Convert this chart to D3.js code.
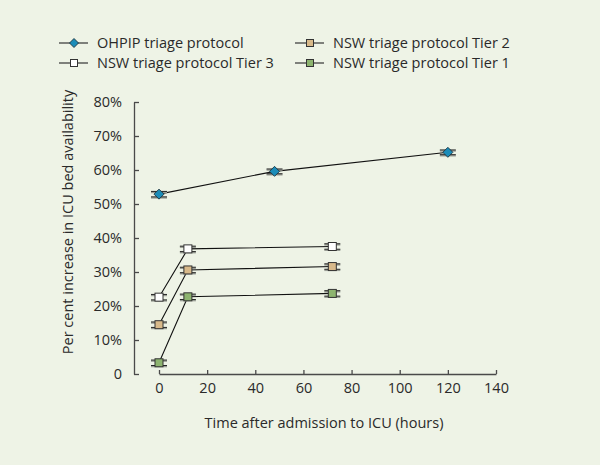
<!DOCTYPE html>
<html>
<head>
<meta charset="utf-8">
<script src="https://cdn.jsdelivr.net/npm/d3@7"></script>
<style>
  html, body { margin: 0; padding: 0; background: #eef3e6; }
  svg { display: block; font-family: "Open Sans", "DejaVu Sans", sans-serif; }
  .axis { font-family: "Open Sans", "DejaVu Sans", sans-serif; }
  .axis path, .axis line { stroke: #4a4a4a; stroke-width: 1.3; }
  .axis text { font-size: 14.5px; fill: #2a2a2a; }
</style>
</head>
<body>
<div id="chart"></div>
<script>
// values
const seriesNames = ['OHPIP triage protocol', 'NSW triage protocol Tier 3', 'NSW triage protocol Tier 2', 'NSW triage protocol Tier 1'];
const ohpipHours = [0, 48, 120];
const ohpipValues = [0.529, 0.596, 0.652];
const ohpipErr = [0.008, 0.007, 0.007];
const nswHours = [0, 12, 72];
const tier3Values = [0.226, 0.368, 0.375];
const tier2Values = [0.145, 0.306, 0.316];
const tier1Values = [0.033, 0.227, 0.237];
const nswErr = [0.008, 0.008, 0.008];
const xTicks = [0, 20, 40, 60, 80, 100, 120, 140];
const yTicks = [0, 0.1, 0.2, 0.3, 0.4, 0.5, 0.6, 0.7, 0.8];

const COLORS = {
    'OHPIP triage protocol': '#1b8cb8',
    'NSW triage protocol Tier 3': '#ffffff',
    'NSW triage protocol Tier 2': '#d8b98a',
    'NSW triage protocol Tier 1': '#8db46f'
};

const series = [
    { name: seriesNames[0], shape: 'diamond', pts: ohpipHours.map((h, i) => ({ x: h, y: ohpipValues[i], e: ohpipErr[i] })) },
    { name: seriesNames[1], shape: 'square', pts: nswHours.map((h, i) => ({ x: h, y: tier3Values[i], e: nswErr[i] })) },
    { name: seriesNames[2], shape: 'square', pts: nswHours.map((h, i) => ({ x: h, y: tier2Values[i], e: nswErr[i] })) },
    { name: seriesNames[3], shape: 'square', pts: nswHours.map((h, i) => ({ x: h, y: tier1Values[i], e: nswErr[i] })) }
];

const width = 600, height = 465;
const svg = d3.select('#chart').append('svg')
    .attr('width', width)
    .attr('height', height);

svg.append('rect').attr('width', width).attr('height', height).attr('fill', '#eef3e6');

const x = d3.scaleLinear().domain([0, 140]).range([159, 496]);
const y = d3.scaleLinear().domain([0, 0.8]).range([374, 102]);
const yAxisX = 134;

// axes
svg.append('g')
    .attr('class', 'axis')
    .attr('transform', `translate(${yAxisX},0)`)
    .call(d3.axisLeft(y).tickValues(yTicks).tickSizeInner(-5).tickSizeOuter(0).tickPadding(12)
        .tickFormat(d => d === 0 ? '0' : `${Math.round(d * 100)}%`));

svg.append('g')
    .attr('class', 'axis')
    .attr('transform', `translate(0,${y(0)})`)
    .call(d3.axisBottom(x).tickValues(xTicks).tickSizeInner(-4).tickSizeOuter(0).tickPadding(9));

svg.append('text')
    .attr('x', 324).attr('y', 428)
    .attr('text-anchor', 'middle')
    .style('font-size', '14.5px').style('fill', '#2a2a2a')
    .text('Time after admission to ICU (hours)');

svg.append('text')
    .attr('transform', `translate(73,${(y(0) + y(0.8)) / 2 - 16}) rotate(-90)`)
    .attr('text-anchor', 'middle')
    .style('font-size', '14.5px').style('fill', '#2a2a2a')
    .text('Per cent increase in ICU bed availability');

const line = d3.line().x(d => x(d.x)).y(d => y(d.y));

function drawMarker(g, shape, color, size) {
    if (shape === 'diamond') {
        g.append('path').attr('d', `M0,${-size}L${size},0L0,${size}L${-size},0Z`)
            .attr('fill', color).attr('stroke', '#1d3440').attr('stroke-width', 0.9);
    } else {
        const h = size - 1;
        g.append('rect').attr('x', -h).attr('y', -h).attr('width', 2 * h).attr('height', 2 * h)
            .attr('fill', color).attr('stroke', '#333').attr('stroke-width', 1);
    }
}

series.forEach(s => {
    const g = svg.append('g').attr('class', 'series');
    g.append('path').datum(s.pts)
        .attr('d', line)
        .attr('fill', 'none')
        .attr('stroke', '#111')
        .attr('stroke-width', 1.1);

    const pts = g.selectAll('g.pt').data(s.pts).enter().append('g')
        .attr('class', 'pt')
        .attr('transform', d => `translate(${x(d.x)},${y(d.y)})`);

    // error bar caps (with a soft grey shadow)
    [1, -1].forEach(sign => {
        pts.append('line')
            .attr('x1', -8).attr('x2', 8)
            .attr('y1', d => y(d.y + sign * d.e) - y(d.y) + 1)
            .attr('y2', d => y(d.y + sign * d.e) - y(d.y) + 1)
            .attr('stroke', '#9a9e96').attr('stroke-width', 1.6);
        pts.append('line')
            .attr('x1', -8).attr('x2', 8)
            .attr('y1', d => y(d.y + sign * d.e) - y(d.y))
            .attr('y2', d => y(d.y + sign * d.e) - y(d.y))
            .attr('stroke', '#222').attr('stroke-width', 1);
    });

    pts.each(function () { drawMarker(d3.select(this), s.shape, COLORS[s.name], 5); });
});

// legend
const legendItems = [
    { name: seriesNames[0], shape: 'diamond', lx: 59, ly: 43 },
    { name: seriesNames[2], shape: 'square', lx: 295, ly: 43 },
    { name: seriesNames[1], shape: 'square', lx: 59, ly: 63 },
    { name: seriesNames[3], shape: 'square', lx: 295, ly: 63 }
];
const legend = svg.append('g').attr('class', 'legend');
legendItems.forEach(item => {
    const lg = legend.append('g').attr('transform', `translate(${item.lx},${item.ly})`);
    lg.append('line').attr('x1', 0).attr('x2', 29).attr('y1', 0).attr('y2', 0)
        .attr('stroke', '#333').attr('stroke-width', 1.2);
    const m = lg.append('g').attr('transform', 'translate(15,0)');
    drawMarker(m, item.shape, COLORS[item.name], 4.5);
    lg.append('text')
        .attr('x', 38).attr('dy', '0.35em')
        .style('font-size', '14.5px').style('fill', '#2a2a2a')
        .text(item.name);
});
</script>
</body>
</html>
